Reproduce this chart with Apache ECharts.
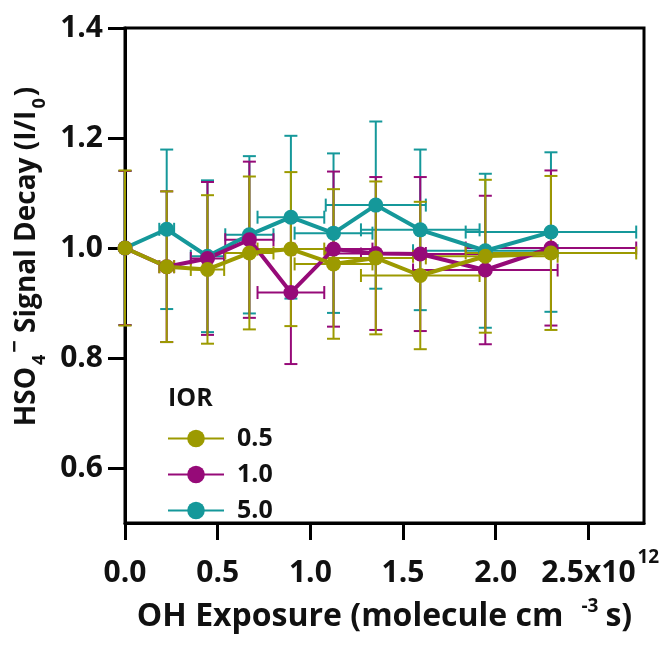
<!DOCTYPE html>
<html><head><meta charset="utf-8">
<script src="https://cdn.jsdelivr.net/npm/echarts@6/dist/echarts.min.js"></script>
<style>html,body{margin:0;padding:0;background:#fff}#c{width:664px;height:657px}</style>
</head><body><div id="c"></div>
<script>
// OH exposure (x10^12 molecule cm^-3 s)
const xValues = [0, 0.225, 0.445, 0.671, 0.895, 1.125, 1.353, 1.593, 1.944, 2.298];
const xErr    = [0, 0.04, 0.09, 0.13, 0.18, 0.21, 0.27, 0.32, 0.39, 0.46];
// IOR 0.5
const ior05    = [1.0, 0.966, 0.961, 0.991, 0.998, 0.971, 0.982, 0.950, 0.985, 0.991];
const ior05Err = [0.141, 0.137, 0.135, 0.139, 0.140, 0.136, 0.139, 0.134, 0.139, 0.140];
// IOR 1.0
const ior10    = [1.0, 0.966, 0.981, 1.015, 0.919, 0.998, 0.990, 0.989, 0.960, 1.0];
const ior10Err = [0.14, 0.137, 0.139, 0.142, 0.130, 0.141, 0.139, 0.140, 0.135, 0.141];
// IOR 5.0
const ior50    = [1.0, 1.034, 0.985, 1.024, 1.056, 1.027, 1.078, 1.033, 0.995, 1.029];
const ior50Err = [0.14, 0.145, 0.138, 0.143, 0.148, 0.145, 0.152, 0.146, 0.140, 0.145];

const xTicks = [0, 0.5, 1.0, 1.5, 2.0, 2.5];
const xTickLabels = ['0.0', '0.5', '1.0', '1.5', '2.0', '2.5x10'];
const xExponent = '12';
const yTicks = [0.6, 0.8, 1.0, 1.2, 1.4];
const seriesNames = ['0.5', '1.0', '5.0'];
const colors = ['#9c9a00', '#960a78', '#15989a'];

const FONT = 'Open Sans';
const chart = echarts.init(document.getElementById('c'), null, {renderer: 'canvas'});

function errRender(params, api) {
  const x = api.value(0), y = api.value(1), ex = api.value(2), ey = api.value(3);
  const color = api.visual('color');
  const style = {stroke: color, lineWidth: 2, fill: null};
  const cap = 6.5;
  const ch = [];
  if (ey > 0) {
    const t = api.coord([x, y + ey]), b = api.coord([x, y - ey]);
    ch.push({type: 'line', shape: {x1: t[0], y1: t[1], x2: b[0], y2: b[1]}, style});
    ch.push({type: 'line', shape: {x1: t[0] - cap, y1: t[1], x2: t[0] + cap, y2: t[1]}, style});
    ch.push({type: 'line', shape: {x1: b[0] - cap, y1: b[1], x2: b[0] + cap, y2: b[1]}, style});
  }
  if (ex > 0) {
    const l = api.coord([x - ex, y]), r = api.coord([x + ex, y]);
    ch.push({type: 'line', shape: {x1: l[0], y1: l[1], x2: r[0], y2: r[1]}, style});
    ch.push({type: 'line', shape: {x1: l[0], y1: l[1] - cap, x2: l[0], y2: l[1] + cap}, style});
    ch.push({type: 'line', shape: {x1: r[0], y1: r[1] - cap, x2: r[0], y2: r[1] + cap}, style});
  }
  return {type: 'group', children: ch};
}

const sets = [
  {name: seriesNames[2], y: ior50, e: ior50Err, color: colors[2]},
  {name: seriesNames[1], y: ior10, e: ior10Err, color: colors[1]},
  {name: seriesNames[0], y: ior05, e: ior05Err, color: colors[0]}
];
const series = [];
sets.forEach(s => {
  series.push({
    type: 'custom', name: 'err' + s.name, renderItem: errRender,
    itemStyle: {color: s.color}, silent: true,
    encode: {x: 0, y: 1},
    data: xValues.map((xv, i) => [xv, s.y[i], xErr[i], s.e[i]])
  });
  series.push({
    type: 'line', name: s.name, symbol: 'circle', symbolSize: 15,
    lineStyle: {width: 4, color: s.color}, itemStyle: {color: s.color},
    data: xValues.map((xv, i) => [xv, s.y[i]])
  });
});

const option = {
  animation: false,
  backgroundColor: '#fff',
  title: {text: 'IOR', left: 163, top: 381, textStyle: {fontFamily: FONT, fontWeight: 'bold', fontSize: 25, color: '#111'}},
  legend: {
    data: seriesNames, orient: 'vertical', left: 162, top: 421,
    itemWidth: 56, itemHeight: 22, itemGap: 11,
    textStyle: {fontFamily: FONT, fontWeight: 'bold', fontSize: 25, color: '#111', padding: [0, 0, 0, 8]}
  },
  grid: {left: 125, right: 20, top: 28, bottom: 134, show: true, borderColor: '#000', borderWidth: 3,
         backgroundColor: 'transparent', containLabel: false, outerBoundsMode: 'none'},
  xAxis: {
    type: 'value', min: 0, max: 2.8,
    name: '{a|OH Exposure (molecule cm}{s|-3}{a|s)}',
    nameLocation: 'middle', nameGap: 74, nameMoveOverlap: false,
    nameTextStyle: {rich: {
      a: {fontFamily: FONT, fontWeight: 'bold', fontSize: 32, color: '#111', lineHeight: 40},
      s: {fontFamily: FONT, fontWeight: 'bold', fontSize: 19, color: '#111', lineHeight: 12, verticalAlign: 'top', padding: [0, 7, 0, 18]}
    }},
    axisLine: {lineStyle: {color: '#000', width: 3}},
    axisTick: {customValues: xTicks, length: 17, lineStyle: {color: '#000', width: 3}},
    axisLabel: {
      customValues: xTicks, margin: 30, showMinLabel: true, showMaxLabel: true, hideOverlap: false,
      formatter: v => {
        const i = xTicks.findIndex(t => Math.abs(t - v) < 1e-9);
        return i >= 0 ? xTickLabels[i] : '';
      },
      fontFamily: FONT, fontWeight: 'bold', fontSize: 30, color: '#111', lineHeight: 40
    },
    splitLine: {show: false}
  },
  yAxis: {
    type: 'value', min: 0.5, max: 1.4,
    name: '{a|HSO}{sub|4}{sup|−}{a| Signal Decay (I/I}{sub|0}{a|)}',
    nameLocation: 'middle', nameGap: 76, nameMoveOverlap: false,
    nameTextStyle: {padding: [0, 0, 0, 38], rich: {
      a: {fontFamily: FONT, fontWeight: 'bold', fontSize: 28, color: '#111', lineHeight: 44},
      sub: {fontFamily: FONT, fontWeight: 'bold', fontSize: 18, color: '#111', lineHeight: 18, verticalAlign: 'bottom', padding: [0, 2, 0, 2]},
      sup: {fontFamily: FONT, fontWeight: 'bold', fontSize: 22, color: '#111', lineHeight: 22, verticalAlign: 'top'}
    }},
    axisLine: {lineStyle: {color: '#000', width: 3}},
    axisTick: {customValues: yTicks, length: 17, lineStyle: {color: '#000', width: 3}},
    axisLabel: {
      customValues: yTicks, margin: 22, showMinLabel: true, showMaxLabel: true,
      formatter: v => v.toFixed(1),
      fontFamily: FONT, fontWeight: 'bold', fontSize: 30, color: '#111'
    },
    splitLine: {show: false}
  },
  series
};
chart.setOption(option);

// exponent of the last x tick label, anchored to the 2.5 tick through the axis scale
const p = chart.convertToPixel({gridIndex: 0}, [xTicks[xTicks.length - 1], 0.5]);
chart.setOption({
  graphic: [{
    type: 'text', x: p[0] + 49, y: p[1] + 25,
    style: {text: xExponent, fontFamily: FONT, fontWeight: 'bold', fontSize: 19, fill: '#111', verticalAlign: 'top', align: 'left'}
  }]
});
</script></body></html>
